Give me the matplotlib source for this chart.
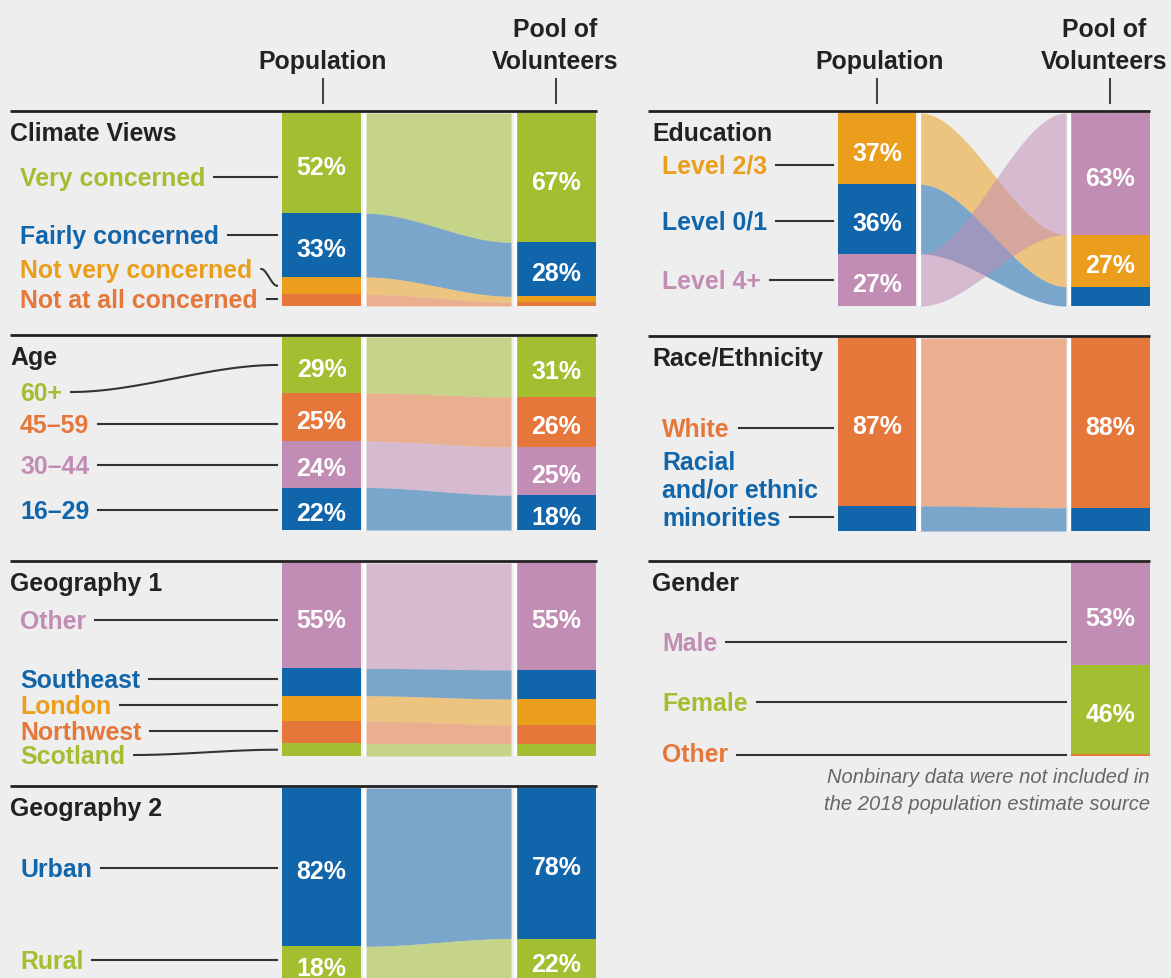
import numpy as np
import matplotlib
matplotlib.use("Agg")
import matplotlib.pyplot as plt

plt.rcParams['font.family'] = ['Liberation Sans', 'DejaVu Sans']

BG = '#eeeeee'
GREEN = '#a3be31'
BLUE = '#1166ab'
ORANGE = '#eb9d1c'
DORANGE = '#e5773b'
PINK = '#c28db4'

# ---- data (percent) ----
climate_cats = ['Very concerned', 'Fairly concerned', 'Not very concerned', 'Not at all concerned']
climate_colors = [GREEN, BLUE, ORANGE, DORANGE]
climate_pop = [52, 33, 9, 6]
climate_vol = [67, 28, 3, 2]

age_cats = ['60+', '45–59', '30–44', '16–29']
age_colors = [GREEN, DORANGE, PINK, BLUE]
age_pop = [29, 25, 24, 22]
age_vol = [31, 26, 25, 18]

geo1_cats = ['Other', 'Southeast', 'London', 'Northwest', 'Scotland']
geo1_colors = [PINK, BLUE, ORANGE, DORANGE, GREEN]
geo1_pop = [54.6, 14.2, 13.1, 11.6, 6.5]
geo1_vol = [55.4, 15.1, 13.3, 9.8, 6.4]

geo2_cats = ['Urban', 'Rural']
geo2_colors = [BLUE, GREEN]
geo2_pop = [82, 18]
geo2_vol = [78, 22]

edu_cats = ['Level 2/3', 'Level 0/1', 'Level 4+']
edu_colors = [ORANGE, BLUE, PINK]
edu_pop = [37, 36, 27]
edu_vol = [27, 10, 63]
edu_vol_order = ['Level 4+', 'Level 2/3', 'Level 0/1']

race_cats = ['White', 'Racial\nand/or ethnic\nminorities']
race_colors = [DORANGE, BLUE]
race_pop = [87, 13]
race_vol = [88, 12]

gender_cats = ['Male', 'Female', 'Other']
gender_colors = [PINK, GREEN, DORANGE]
gender_vol = [53, 46, 1]

# ---- layout (pixels) ----
W, H = 1171, 979
BAR_H = 193
FS = 17.9
TXT_DY = 2  # nudge text down so caps sit centred like the original
LEFT = dict(title_x=10, lbl_x=20, pop=(282, 361), vol=(517, 596), flow=(366, 511), rule=(10, 597))
RIGHT = dict(title_x=652, lbl_x=662, pop=(838, 916), vol=(1071, 1150), flow=(920, 1066), rule=(648, 1150))

fig = plt.figure(figsize=(W / 100, H / 100), dpi=100, facecolor=BG)
base = fig.add_axes([0, 0, 1, 1])
base.set_xlim(0, W)
base.set_ylim(H, 0)
base.set_axis_off()
renderer = fig.canvas.get_renderer()


def smooth(t):
    return t * t * (3 - 2 * t)


def stack(vals):
    vals = np.asarray(vals, dtype=float)
    return np.concatenate([[0], np.cumsum(vals)[:-1]])


def draw_panel(col, top, title, cats, colors, pop, vol, label_y, vol_order=None):
    ax = fig.add_axes([0, 1 - (top + BAR_H) / H, 1, BAR_H / H])
    ax.set_xlim(0, W)
    ax.set_ylim(100, 0)
    ax.set_axis_off()
    pct = lambda px: (px - top) * 100 / BAR_H
    k_pct = 100 / BAR_H

    ax.plot(col['rule'], [pct(top - 2)] * 2, color='#222222', lw=2, clip_on=False,
            solid_capstyle='butt')
    ax.text(col['title_x'], pct(top + 18 + TXT_DY), title, fontsize=FS, fontweight='bold',
            color='#222222', va='center', ha='left')

    order = vol_order if vol_order else cats
    vol_vals = [vol[cats.index(c)] for c in order] if vol_order else vol
    vol_cols = [colors[cats.index(c)] for c in order]
    vb = stack(vol_vals)
    vx = (col['vol'][0] + col['vol'][1]) / 2
    vw = col['vol'][1] - col['vol'][0]
    ax.bar([vx] * len(order), vol_vals, width=vw, bottom=vb, color=vol_cols, linewidth=0)
    for v, b in zip(vol_vals, vb):
        if v >= 16:
            ax.text(vx, b + v / 2 + 4 * k_pct, f"{v:.0f}%", color='white', fontsize=FS,
                    fontweight='bold', ha='center', va='center')

    if pop is not None:
        pb = stack(pop)
        px_ = (col['pop'][0] + col['pop'][1]) / 2
        pw = col['pop'][1] - col['pop'][0]
        ax.bar([px_] * len(cats), pop, width=pw, bottom=pb, color=colors, linewidth=0)
        for v, b in zip(pop, pb):
            if v >= 16:
                ax.text(px_, b + v / 2 + 4 * k_pct, f"{v:.0f}%", color='white', fontsize=FS,
                        fontweight='bold', ha='center', va='center')
        # flows between the two bars
        fx = np.linspace(col['flow'][0], col['flow'][1], 120)
        s = smooth((fx - fx[0]) / (fx[-1] - fx[0]))
        for i, c in enumerate(cats):
            j = order.index(c)
            t0, b0 = pb[i], pb[i] + pop[i]
            t1, b1 = vb[j], vb[j] + vol_vals[j]
            ax.fill_between(fx, t0 + (t1 - t0) * s, b0 + (b1 - b0) * s,
                            color=colors[i], alpha=0.53, linewidth=0)
        for xs in (col['pop'][1] + 2.5, col['vol'][0] - 2.5):
            ax.plot([xs, xs], [0, 100], color='white', lw=2.4, solid_capstyle='butt')
        seg_top, seg_vals, bar_left = pb, pop, col['pop'][0]
    else:
        seg_top = [vb[order.index(c)] for c in cats]
        seg_vals = [vol_vals[order.index(c)] for c in cats]
        bar_left = col['vol'][0]

    inv = ax.transData.inverted()
    for i, c in enumerate(cats):
        lines = c.split('\n')
        ly = label_y[i]
        for k, ln in enumerate(lines):
            t = ax.text(col['lbl_x'], pct(ly + TXT_DY - (len(lines) - 1 - k) * 28), ln,
                        fontsize=FS, fontweight='bold', color=colors[i], ha='left', va='center')
        x_end = inv.transform(t.get_window_extent(renderer).get_points())[1, 0]
        y_lab = pct(ly + 1)
        s0, s1 = seg_top[i], seg_top[i] + seg_vals[i]
        margin = 4 * k_pct
        if s0 + margin <= y_lab <= s1 - margin:
            y_tgt = y_lab
        else:
            y_tgt = (s0 + s1) / 2
            if abs(y_tgt - y_lab) < 4 * k_pct:
                y_lab = y_tgt
        lx = np.linspace(x_end + 9, bar_left - 5, 80)
        ly_curve = y_lab + (y_tgt - y_lab) * smooth((lx - lx[0]) / (lx[-1] - lx[0]))
        ax.plot(lx, ly_curve, color='#333333', lw=1.5, clip_on=False)


draw_panel(LEFT, 114, 'Climate Views', climate_cats, climate_colors, climate_pop, climate_vol,
           [177, 235, 269, 299])
draw_panel(LEFT, 338, 'Age', age_cats, age_colors, age_pop, age_vol, [392, 424, 465, 510])
draw_panel(LEFT, 564, 'Geography 1', geo1_cats, geo1_colors, geo1_pop, geo1_vol,
           [620, 679, 705, 731, 755])
draw_panel(LEFT, 789, 'Geography 2', geo2_cats, geo2_colors, geo2_pop, geo2_vol, [868, 960])
draw_panel(RIGHT, 114, 'Education', edu_cats, edu_colors, edu_pop, edu_vol, [165, 221, 280],
           vol_order=edu_vol_order)
draw_panel(RIGHT, 339, 'Race/Ethnicity', race_cats, race_colors, race_pop, race_vol, [428, 517])
draw_panel(RIGHT, 564, 'Gender', gender_cats, gender_colors, None, gender_vol, [642, 702, 753])

# column headers
headers = [(323, 323, ['Population']), (555, 556, ['Pool of', 'Volunteers']),
           (880, 877, ['Population']), (1104, 1110, ['Pool of', 'Volunteers'])]
for tx, tick_x, lines in headers:
    for k, ln in enumerate(lines):
        base.text(tx, 62 - (len(lines) - 1 - k) * 32, ln, fontsize=FS, fontweight='bold',
                  color='#222222', ha='center', va='center')
    base.plot([tick_x, tick_x], [80, 104], color='#444444', lw=1.5)

base.text(1150, 778, 'Nonbinary data were not included in', fontsize=14.5, style='italic',
          color='#666666', ha='right', va='center')
base.text(1150, 805, 'the 2018 population estimate source', fontsize=14.5, style='italic',
          color='#666666', ha='right', va='center')

fig.savefig('out.png', dpi=100, facecolor=BG)
